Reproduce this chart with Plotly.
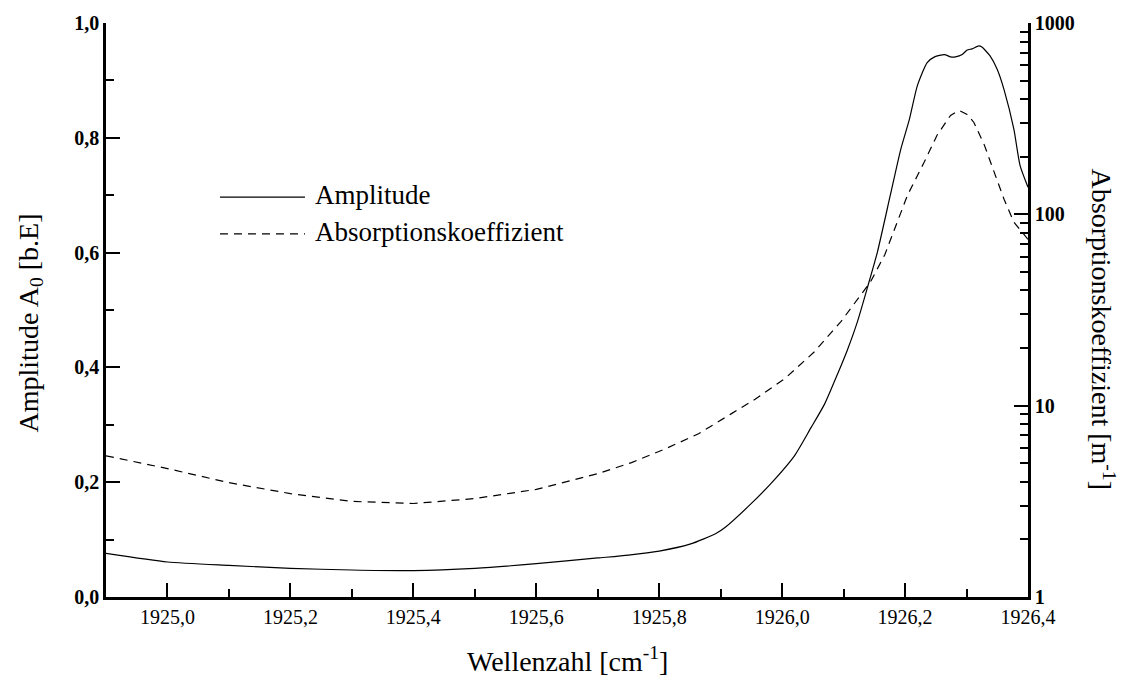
import plotly.graph_objects as go

# Amplitude (left axis, linear)
wav_amp = [1924.90, 1925.00, 1925.10, 1925.20, 1925.30, 1925.40, 1925.50, 1925.60,
           1925.70, 1925.75, 1925.80, 1925.85, 1925.893, 1925.907, 1925.95, 1925.982,
           1926.02, 1926.047, 1926.069, 1926.09, 1926.106, 1926.122, 1926.139, 1926.155,
           1926.176, 1926.193, 1926.207, 1926.22, 1926.236, 1926.248, 1926.264, 1926.274,
           1926.282, 1926.293, 1926.301, 1926.309, 1926.32, 1926.325, 1926.338, 1926.35,
           1926.361, 1926.377, 1926.387, 1926.40]
amplitude = [0.076, 0.061, 0.055, 0.050, 0.047, 0.046, 0.050, 0.058,
             0.068, 0.073, 0.080, 0.092, 0.111, 0.121, 0.163, 0.198,
             0.246, 0.295, 0.336, 0.388, 0.430, 0.478, 0.540, 0.601,
             0.700, 0.780, 0.832, 0.891, 0.931, 0.941, 0.945, 0.941,
             0.941, 0.945, 0.953, 0.955, 0.960, 0.958, 0.943, 0.919,
             0.884, 0.815, 0.752, 0.714]

# Absorption coefficient (right axis, log)
wav_abs = [1924.90, 1925.00, 1925.10, 1925.20, 1925.30, 1925.40, 1925.50, 1925.60,
           1925.70, 1925.755, 1925.81, 1925.864, 1925.917, 1925.956, 1926.005, 1926.053,
           1926.096, 1926.123, 1926.144, 1926.167, 1926.183, 1926.204, 1926.231, 1926.252,
           1926.274, 1926.288, 1926.301, 1926.312, 1926.329, 1926.345, 1926.361, 1926.377,
           1926.393, 1926.40]
absorption = [5.47, 4.69, 3.96, 3.47, 3.16, 3.08, 3.27, 3.65,
              4.41, 5.04, 5.95, 7.13, 9.06, 10.8, 13.9, 19.2,
              27.6, 35.9, 44.5, 61.5, 84, 126, 187, 259,
              329, 349, 333, 302, 230, 166, 120, 91,
              78, 74]

x_ticks = [1925.0, 1925.2, 1925.4, 1925.6, 1925.8, 1926.0, 1926.2, 1926.4]
y_ticks = [0.0, 0.2, 0.4, 0.6, 0.8, 1.0]
y2_ticks = [1, 10, 100, 1000]
y2_minor = [m * d for d in (1, 10, 100) for m in range(2, 10)]

SERIF = "Liberation Serif, Times New Roman, serif"

fig = go.Figure()
fig.add_trace(go.Scatter(x=wav_amp, y=amplitude, mode="lines", name="Amplitude",
                         line=dict(color="black", width=1.2, shape="spline", smoothing=0.6),
                         showlegend=False))
fig.add_trace(go.Scatter(x=wav_abs, y=absorption, mode="lines", name="Absorptionskoeffizient",
                         yaxis="y2", line=dict(color="black", width=1.2, dash="8px,6px"),
                         showlegend=False))

tickfont = dict(family=SERIF, size=20, color="black")
tickfont_b = dict(family=SERIF, size=20, color="black", weight="bold")

fig.update_layout(
    width=1130, height=684,
    margin=dict(l=106, r=102, t=20, b=87),
    paper_bgcolor="white", plot_bgcolor="white",
    separators=",.",
    showlegend=False,
    xaxis=dict(range=[1924.9, 1926.4], tickvals=x_ticks, tickformat=".1f",
               ticks="inside", ticklen=14, tickwidth=2, tickcolor="black",
               showline=True, linewidth=2.5, linecolor="black",
               showgrid=False, zeroline=False, tickfont=tickfont,
               minor=dict(dtick=0.1, ticks="inside", ticklen=8, tickwidth=2,
                          tickcolor="black", showgrid=False)),
    yaxis=dict(range=[0, 1], tickvals=y_ticks, tickformat=".1f",
               ticks="inside", ticklen=14, tickwidth=2, tickcolor="black",
               showline=True, linewidth=2.5, linecolor="black",
               showgrid=False, zeroline=False, tickfont=tickfont_b,
               minor=dict(dtick=0.1, ticks="inside", ticklen=8, tickwidth=2,
                          tickcolor="black", showgrid=False)),
    yaxis2=dict(type="log", range=[0, 3], overlaying="y", side="right",
                tickvals=y2_ticks, ticktext=[str(v) for v in y2_ticks],
                ticks="inside", ticklen=14, tickwidth=2, tickcolor="black",
                showline=True, linewidth=2.5, linecolor="black",
                showgrid=False, zeroline=False, tickfont=tickfont_b,
                minor=dict(tickvals=y2_minor, ticks="inside", ticklen=8, tickwidth=2,
                           tickcolor="black", showgrid=False)),
)

title_font = dict(family=SERIF, size=28, color="black")
fig.add_annotation(text="Wellenzahl [cm<sup>-1</sup>]", xref="paper", yref="paper",
                   x=0.5, y=-0.109, xanchor="center", yanchor="middle",
                   showarrow=False, font=title_font)
fig.add_annotation(text="Amplitude A<sub>0</sub> [b.E]", xref="paper", yref="paper",
                   x=-0.0824, y=0.4766, xanchor="center", yanchor="middle",
                   textangle=-90, showarrow=False, font=title_font)
fig.add_annotation(text="Absorptionskoeffizient [m<sup>-1</sup>]", xref="paper", yref="paper",
                   x=1.0813, y=0.466, xanchor="center", yanchor="middle",
                   textangle=90, showarrow=False, font=title_font)

# legend (drawn manually to get long sample lines)
legend_font = dict(family=SERIF, size=27, color="black")
fig.add_shape(type="line", xref="paper", yref="paper", x0=0.1236, x1=0.2158,
              y0=0.6967, y1=0.6967, line=dict(color="black", width=1.2))
fig.add_shape(type="line", xref="paper", yref="paper", x0=0.1236, x1=0.2158,
              y0=0.6326, y1=0.6326, line=dict(color="black", width=1.2, dash="8px,6px"))
fig.add_annotation(text="Amplitude", xref="paper", yref="paper", x=0.2245, y=0.7,
                   xanchor="left", yanchor="middle", showarrow=False, font=legend_font)
fig.add_annotation(text="Absorptionskoeffizient", xref="paper", yref="paper", x=0.2245,
                   y=0.636, xanchor="left", yanchor="middle", showarrow=False, font=legend_font)

fig.write_html("out.html")
